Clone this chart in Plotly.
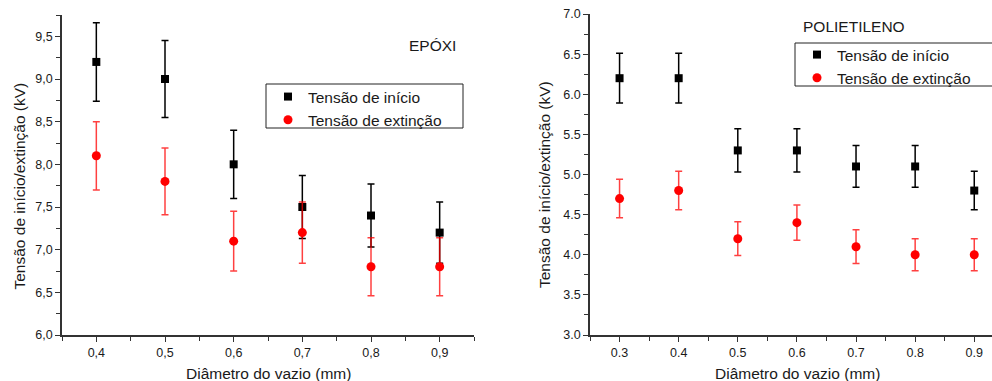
import plotly.graph_objects as go

# ---------------- data ----------------
diam_epoxi = [0.4, 0.5, 0.6, 0.7, 0.8, 0.9]
inicio_epoxi = [9.2, 9.0, 8.0, 7.5, 7.4, 7.2]
inicio_epoxi_err = [0.46, 0.45, 0.40, 0.37, 0.37, 0.36]
extincao_epoxi = [8.1, 7.8, 7.1, 7.2, 6.8, 6.8]
extincao_epoxi_err = [0.40, 0.39, 0.35, 0.36, 0.34, 0.34]

diam_poli = [0.3, 0.4, 0.5, 0.6, 0.7, 0.8, 0.9]
inicio_poli = [6.2, 6.2, 5.3, 5.3, 5.1, 5.1, 4.8]
inicio_poli_err = [0.31, 0.31, 0.27, 0.27, 0.26, 0.26, 0.24]
extincao_poli = [4.7, 4.8, 4.2, 4.4, 4.1, 4.0, 4.0]
extincao_poli_err = [0.24, 0.24, 0.21, 0.22, 0.21, 0.20, 0.20]

epoxi_xticks = [0.4, 0.5, 0.6, 0.7, 0.8, 0.9]
epoxi_xticklabels = ["0,4", "0,5", "0,6", "0,7", "0,8", "0,9"]
epoxi_yticks = [6.0, 6.5, 7.0, 7.5, 8.0, 8.5, 9.0, 9.5]
epoxi_yticklabels = ["6,0", "6,5", "7,0", "7,5", "8,0", "8,5", "9,0", "9,5"]
poli_xticks = [0.3, 0.4, 0.5, 0.6, 0.7, 0.8, 0.9]
poli_xticklabels = ["0.3", "0.4", "0.5", "0.6", "0.7", "0.8", "0.9"]
poli_yticks = [3.0, 3.5, 4.0, 4.5, 5.0, 5.5, 6.0, 6.5, 7.0]
poli_yticklabels = ["3.0", "3.5", "4.0", "4.5", "5.0", "5.5", "6.0", "6.5", "7.0"]

name_inicio = "Tensão de início"
name_extincao = "Tensão de extinção"
ytitle = "Tensão de início/extinção (kV)"
xtitle = "Diâmetro do vazio (mm)"

# ---------------- figure ----------------
W, H = 992, 381
FONT = "Liberation Sans"
TXT = "#1a1a1a"
AX = "#333333"
RED_ERR = "rgba(255,0,0,0.75)"


def px(x):
    return x / W


def py(y):
    return 1 - y / H


fig = go.Figure()

fig.add_trace(go.Scatter(
    x=diam_epoxi, y=inicio_epoxi, mode="markers", name=name_inicio,
    marker=dict(symbol="square", size=8, color="black"),
    error_y=dict(type="data", array=inicio_epoxi_err, color="black", thickness=1.5, width=3.5),
    xaxis="x", yaxis="y", legend="legend"))
fig.add_trace(go.Scatter(
    x=diam_epoxi, y=extincao_epoxi, mode="markers", name=name_extincao,
    marker=dict(symbol="circle", size=9, color="red"),
    error_y=dict(type="data", array=extincao_epoxi_err, color=RED_ERR, thickness=1.5, width=3.5),
    xaxis="x", yaxis="y", legend="legend"))

fig.add_trace(go.Scatter(
    x=diam_poli, y=inicio_poli, mode="markers", name=name_inicio,
    marker=dict(symbol="square", size=8, color="black"),
    error_y=dict(type="data", array=inicio_poli_err, color="black", thickness=1.5, width=3.5),
    xaxis="x2", yaxis="y2", legend="legend2"))
fig.add_trace(go.Scatter(
    x=diam_poli, y=extincao_poli, mode="markers", name=name_extincao,
    marker=dict(symbol="circle", size=9, color="red"),
    error_y=dict(type="data", array=extincao_poli_err, color=RED_ERR, thickness=1.5, width=3.5),
    xaxis="x2", yaxis="y2", legend="legend2"))

axis_common = dict(
    showgrid=False, zeroline=False, showline=True, linecolor=AX, linewidth=1.5,
    ticks="outside", ticklen=5, tickwidth=1.2, tickcolor=AX,
    tickfont=dict(family=FONT, size=12.5, color=TXT),
    mirror=False, automargin=False,
)

legend_common = dict(xanchor="left", yanchor="top", borderwidth=0,
                     bgcolor="rgba(0,0,0,0)",
                     font=dict(family=FONT, size=15.5, color=TXT),
                     tracegroupgap=0, itemwidth=30)

fig.update_layout(
    template="none",
    width=W, height=H,
    margin=dict(l=0, r=0, t=0, b=0, autoexpand=False),
    paper_bgcolor="white", plot_bgcolor="white",
    font=dict(family=FONT, color=TXT),
    xaxis=dict(axis_common, domain=[px(62), px(474)], range=[0.35, 0.95],
               tickmode="array", tickvals=epoxi_xticks, ticktext=epoxi_xticklabels,
               minor=dict(ticks="outside", dtick=0.05, tick0=0.35, ticklen=4, tickcolor=AX),
               anchor="y"),
    yaxis=dict(axis_common, domain=[py(335), py(15)], range=[6.0, 9.75],
               tickmode="array", tickvals=epoxi_yticks, ticktext=epoxi_yticklabels,
               minor=dict(ticks="outside", dtick=0.25, tick0=6.0, ticklen=4, tickcolor=AX),
               anchor="x"),
    xaxis2=dict(axis_common, domain=[px(590), 1.0], range=[0.25, 0.93],
                tickmode="array", tickvals=poli_xticks, ticktext=poli_xticklabels,
                minor=dict(ticks="outside", dtick=0.05, tick0=0.25, ticklen=4, tickcolor=AX),
                anchor="y2"),
    yaxis2=dict(axis_common, domain=[py(335), py(14)], range=[3.0, 7.0],
                tickmode="array", tickvals=poli_yticks, ticktext=poli_yticklabels,
                minor=dict(ticks="outside", dtick=0.25, tick0=3.0, ticklen=4, tickcolor=AX),
                anchor="x2"),
    legend=dict(legend_common, x=px(268), y=py(80)),
    legend2=dict(legend_common, x=px(797), y=py(38)),
    showlegend=True,
)

# legend frames
fig.add_shape(type="rect", xref="paper", yref="paper",
              x0=px(266), x1=px(463), y0=py(128), y1=py(84),
              line=dict(color="#222", width=1), fillcolor="rgba(0,0,0,0)", layer="above")
fig.add_shape(type="rect", xref="paper", yref="paper",
              x0=px(795), x1=px(1000), y0=py(86), y1=py(43),
              line=dict(color="#222", width=1), fillcolor="rgba(0,0,0,0)", layer="above")

ann_font = dict(family=FONT, size=15.5, color=TXT)
common_ann = dict(xref="paper", yref="paper", showarrow=False,
                  xanchor="center", yanchor="middle")
fig.add_annotation(text=ytitle, x=px(18.5), y=py(186), textangle=-90, font=ann_font, **common_ann)
fig.add_annotation(text=ytitle, x=px(545), y=py(185), textangle=-90, font=ann_font, **common_ann)
fig.add_annotation(text=xtitle, x=px(268), y=py(373), font=ann_font, **common_ann)
fig.add_annotation(text=xtitle, x=px(797), y=py(373), font=ann_font, **common_ann)
fig.add_annotation(text="EPÓXI", x=px(432), y=py(45), font=ann_font, **common_ann)
fig.add_annotation(text="POLIETILENO", x=px(854), y=py(27), font=ann_font, **common_ann)

fig.write_html("out.html")
